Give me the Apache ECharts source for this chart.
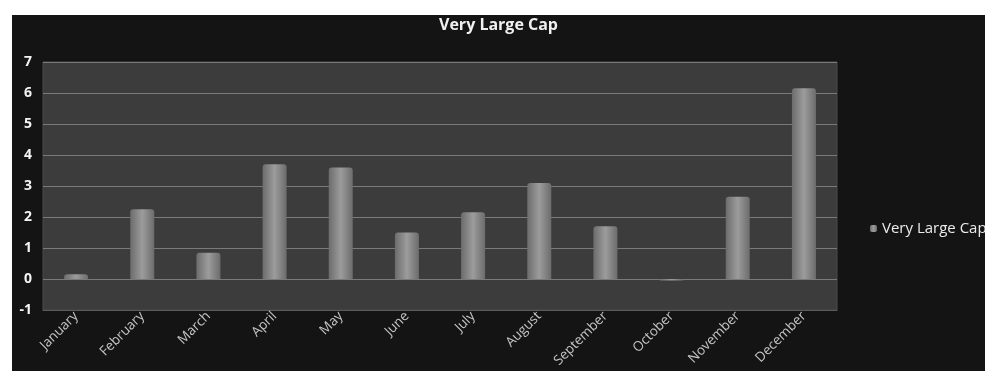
<!DOCTYPE html>
<html>
<head>
    <meta charset="utf-8">
    <title>Very Large Cap</title>
    <script src="https://cdn.jsdelivr.net/npm/echarts@6/dist/echarts.min.js"></script>
    <style>
        body { margin: 0; background: #ffffff; }
        #main { position: absolute; left: 12px; top: 15px; width: 973px; height: 356px; background: #141414; }
    </style>
</head>
<body>
<div id="main"></div>
<script type="text/javascript">
    // data
    var months = ["January", "February", "March", "April", "May", "June",
        "July", "August", "September", "October", "November", "December"];
    var veryLargeCap = [0.15, 2.25, 0.85, 3.7, 3.6, 1.5, 2.15, 3.1, 1.7, -0.05, 2.65, 6.15];
    var seriesName = "Very Large Cap";

    var myChart = echarts.init(document.getElementById('main'));

    var barColor = new echarts.graphic.LinearGradient(0, 0, 1, 0, [
        { offset: 0, color: '#6c6c6c' },
        { offset: 0.5, color: '#9c9c9c' },
        { offset: 1, color: '#6c6c6c' }
    ]);

    var option = {
        backgroundColor: '#141414',
        title: {
            text: 'Very Large Cap',
            left: 'center',
            top: -3,
            textStyle: { color: '#f0f0f0', fontSize: 16, fontWeight: 'bold', fontFamily: 'Open Sans' }
        },
        legend: {
            data: [seriesName],
            left: 853,
            top: 201,
            itemWidth: 7,
            itemHeight: 7,
            itemGap: 6,
            textStyle: { color: '#ececec', fontSize: 15, fontFamily: 'Open Sans' }
        },
        grid: {
            left: 31,
            top: 47,
            right: 148,
            bottom: 61,
            show: true,
            backgroundColor: '#3c3c3c',
            borderColor: '#4a4a4a',
            borderWidth: 1
        },
        xAxis: {
            type: 'category',
            data: months,
            axisLine: { onZero: false, lineStyle: { color: '#5a5a5a' } },
            axisTick: { show: false },
            axisLabel: {
                rotate: 45,
                color: '#c4c4c4',
                fontSize: 13.5,
                fontFamily: 'Open Sans',
                margin: 4
            }
        },
        yAxis: {
            type: 'value',
            min: -1,
            max: 7,
            interval: 1,
            axisLine: { show: false },
            axisTick: { show: false },
            splitLine: { lineStyle: { color: '#7a7a7a', width: 1 } },
            axisLabel: { color: '#f4f4f4', fontSize: 14, fontWeight: 'bold', fontFamily: 'Open Sans', margin: 11 }
        },
        series: [{
            name: seriesName,
            type: 'bar',
            data: veryLargeCap,
            barWidth: 24,
            itemStyle: { color: barColor, borderRadius: [3, 3, 0, 0] }
        }]
    };

    myChart.setOption(option);
</script>
</body>
</html>
